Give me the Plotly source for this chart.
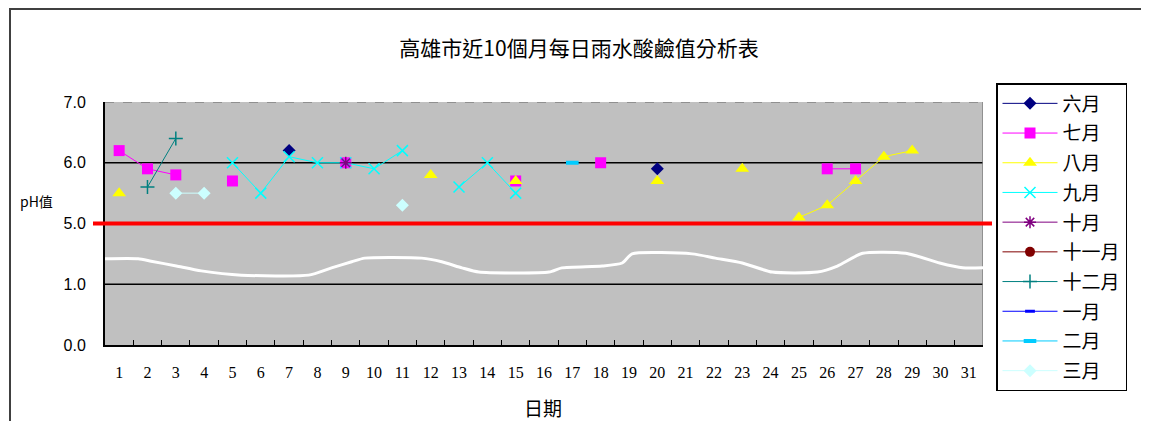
import plotly.graph_objects as go

N = None
days = list(range(1, 32))
day_labels = [str(d) for d in days]

# pH values per day (None = no rain / no measurement)
jun = [N]*31
jul = [N]*31
aug = [N]*31
sep = [N]*31
oct_ = [N]*31
nov = [N]*31
dec = [N]*31
jan = [N]*31
feb = [N]*31
mar = [N]*31

jun_vals = {7: 6.2, 20: 5.9}
jul_vals = {1: 6.2, 2: 5.9, 3: 5.8, 5: 5.7, 9: 6.0, 15: 5.7, 18: 6.0, 26: 5.9, 27: 5.9}
aug_vals = {1: 5.5, 12: 5.8, 15: 5.7, 20: 5.7, 23: 5.9, 25: 5.1, 26: 5.3, 27: 5.7, 28: 6.1, 29: 6.2}
sep_vals = {5: 6.0, 6: 5.5, 7: 6.1, 8: 6.0, 9: 6.0, 10: 5.9, 11: 6.2, 13: 5.6, 14: 6.0, 15: 5.5}
oct_vals = {9: 6.0}
nov_vals = {}
dec_vals = {2: 5.6, 3: 6.4}
jan_vals = {}
feb_vals = {17: 6.0}
mar_vals = {3: 5.5, 4: 5.5, 11: 5.3}

for arr, vals in [(jun, jun_vals), (jul, jul_vals), (aug, aug_vals), (sep, sep_vals),
                  (oct_, oct_vals), (nov, nov_vals), (dec, dec_vals), (jan, jan_vals),
                  (feb, feb_vals), (mar, mar_vals)]:
    for d, v in vals.items():
        arr[d - 1] = v

# broken y axis: 0.0, 1.0 | break | 5.0, 6.0, 7.0
tick_ph = [0.0, 1.0, 5.0, 6.0, 7.0]
tick_text = ["0.0", "1.0", "5.0", "6.0", "7.0"]
grid_ph = [1.0, 6.0]
threshold_ph = 5.0
BREAK_SHIFT = 3.0


def to_axis(v):
    if v is None:
        return None
    return v - BREAK_SHIFT if v >= 5.0 else v


# axis-break wavy line (in axis units)
break_x = [0.5, 1.67, 2.13, 3.02, 3.9, 5.32, 7.69, 8.5, 9.21, 9.67, 11.68, 12.39, 13.1, 13.7,
           16.18, 16.63, 18.05, 18.76, 19.11, 21.23, 22.05, 23.0, 24.06, 25.65, 26.36, 27.25,
           28.77, 29.97, 30.78, 31.5]
break_lvl = [1.42, 1.42, 1.38, 1.30, 1.22, 1.15, 1.15, 1.27, 1.37, 1.43, 1.43, 1.37, 1.27, 1.20,
             1.20, 1.27, 1.30, 1.35, 1.50, 1.50, 1.43, 1.35, 1.20, 1.20, 1.30, 1.51,
             1.51, 1.35, 1.27, 1.27]

series = [
    ("六月", jun, "#000080", dict(symbol="diamond", size=10)),
    ("七月", jul, "#FF00FF", dict(symbol="square", size=11)),
    ("八月", aug, "#FFFF00", dict(symbol="triangle-up", size=12)),
    ("九月", sep, "#00FFFF", dict(symbol="x-thin-open", size=11, line=dict(width=1.5, color="#00FFFF"))),
    ("十月", oct_, "#800080", dict(symbol="asterisk-open", size=10, line=dict(width=1.5, color="#800080"))),
    ("十一月", nov, "#800000", dict(symbol="circle", size=10)),
    ("十二月", dec, "#008080", dict(symbol="cross-thin-open", size=10, line=dict(width=1.5, color="#008080"))),
    ("一月", jan, "#0000FF", dict(symbol="line-ew-open", size=7, line=dict(width=3, color="#0000FF"))),
    ("二月", feb, "#00CCFF", dict(symbol="line-ew-open", size=9, line=dict(width=4, color="#00CCFF"))),
    ("三月", mar, "#CCFFFF", dict(symbol="diamond", size=10)),
]

fig = go.Figure()

fig.add_trace(go.Scatter(x=break_x, y=break_lvl, mode="lines",
                         line=dict(color="white", width=3, shape="spline", smoothing=0.6),
                         showlegend=False, hoverinfo="skip"))

for i, (name, vals, color, marker) in enumerate(series):
    m = dict(color=color)
    m.update(marker)
    fig.add_trace(go.Scatter(
        x=days, y=[to_axis(v) for v in vals], name=name, mode="lines+markers",
        line=dict(color=color, width=1), marker=m, connectgaps=False,
        legendgroup=f"g{i}",
    ))

X0, X1 = 0.5, 31.5
Y0, Y1 = 0.0, 4.0

# page body has an 8px margin: figure origin sits at (8, 8) of the window
OFF = 8
W, H = 1149 - OFF, 421 - OFF
PL, PR, PT, PB = 105 - OFF, 983 - OFF, 102 - OFF, 345 - OFF
PW, PH = PR - PL, PB - PT


def px_x(px):
    return (px - OFF - PL) / PW


def px_y(py):
    return (PB - (py - OFF)) / PH


shapes = []
for g in grid_ph:
    shapes.append(dict(type="line", xref="x", yref="y", x0=X0, x1=X1, y0=to_axis(g), y1=to_axis(g),
                       line=dict(color="black", width=1.5), layer="below"))
# top and right border of plot area
shapes.append(dict(type="line", xref="x", yref="y", x0=X0, x1=X1, y0=Y1, y1=Y1,
                   line=dict(color="#808080", width=1.5, dash="dash"), layer="below"))
shapes.append(dict(type="line", xref="x", yref="y", x0=X1, x1=X1, y0=Y0, y1=Y1,
                   line=dict(color="#808080", width=1.5), layer="below"))
# red threshold line (extends slightly beyond plot)
thr_paper = (to_axis(threshold_ph) - Y0) / (Y1 - Y0)
shapes.append(dict(type="line", xref="paper", yref="paper", x0=px_x(93), x1=px_x(992),
                   y0=thr_paper, y1=thr_paper, line=dict(color="#FF0000", width=4), layer="above"))
# outer chart frame
shapes.append(dict(type="rect", xref="paper", yref="paper", x0=px_x(10), x1=px_x(1147),
                   y0=px_y(9), y1=px_y(440),
                   line=dict(color="#404040", width=2), layer="below"))

fig.update_layout(
    width=W, height=H, autosize=False,
    margin=dict(l=PL, r=W - PR, t=PT, b=H - PB),
    paper_bgcolor="white", plot_bgcolor="#C0C0C0",
    title=dict(text="高雄市近10個月每日雨水酸鹼值分析表", x=(579 - OFF) / W, xanchor="center",
               y=1 - (49 - OFF) / H, yanchor="middle", yref="container",
               font=dict(family="Noto Sans CJK TC", size=21, color="black")),
    xaxis=dict(range=[X0, X1], tickmode="array", tickvals=days, ticktext=day_labels,
               showgrid=False, zeroline=False, ticks="", showline=True, linecolor="black", linewidth=2,
               tickfont=dict(family="Liberation Serif", size=16, color="black"),
               ticklabelstandoff=12,
               minor=dict(tickvals=[d + 0.5 for d in days[:-1]], ticks="inside", ticklen=5,
                          tickcolor="black", tickwidth=1, showgrid=False)),
    yaxis=dict(range=[Y0, Y1], tickmode="array", tickvals=[to_axis(v) for v in tick_ph], ticktext=tick_text,
               showgrid=False, zeroline=False, ticks="", showline=True, linecolor="black", linewidth=2,
               tickfont=dict(family="Liberation Sans", size=16, color="black"),
               ticklabelstandoff=14),
    legend=dict(x=px_x(996), y=px_y(83), xanchor="left", yanchor="top",
                bgcolor="white", bordercolor="black", borderwidth=1.5,
                font=dict(family="Noto Sans CJK TC", size=19, color="black"),
                itemwidth=55, tracegroupgap=2, traceorder="grouped", maxheight=400),
    shapes=shapes,
    annotations=[
        dict(text="日期", xref="paper", yref="paper", x=px_x(543), y=px_y(407),
             xanchor="center", yanchor="middle", showarrow=False,
             font=dict(family="Noto Sans CJK TC", size=19, color="black")),
        dict(text="pH值", xref="paper", yref="paper", x=px_x(36), y=px_y(201),
             xanchor="center", yanchor="middle", showarrow=False,
             font=dict(family="Noto Sans CJK TC", size=14, color="black")),
    ],
)

fig.write_html("out.html")
